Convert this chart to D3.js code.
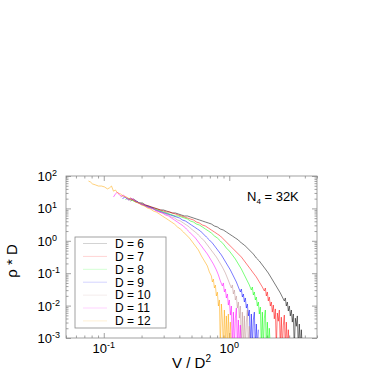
<!DOCTYPE html>
<html>
<head>
<meta charset="utf-8">
<script src="https://cdn.jsdelivr.net/npm/d3@7"></script>
<style>
  body { margin: 0; background: #fff; }
  svg { display: block; font-family: "Liberation Sans", Arial, sans-serif; }
</style>
</head>
<body>
<svg id="chart" width="382" height="382"></svg>
<script>
// values (V/D^2, rho*D); 0 = empty bin
const dValues = [6, 7, 8, 9, 10, 11, 12];
const lineColors = ['#000000', '#ff0000', '#00ff00', '#0000ff', '#bc8f8f', '#ff00ff', '#ffa500'];

const seriesD6 = [[0.163,16.9],[0.172,19.5],[0.182,16.9],[0.192,14.7],[0.203,14.7],[0.215,12.7],[0.227,11.9],[0.240,11.0],[0.253,10.3],[0.268,9.58],[0.283,8.92],[0.299,8.92],[0.316,8.31],[0.334,7.74],[0.352,7.21],[0.372,7.21],[0.393,6.72],[0.415,6.26],[0.439,5.83],[0.464,5.83],[0.490,5.43],[0.518,5.06],[0.547,4.71],[0.578,4.39],[0.611,4.08],[0.645,3.80],[0.682,3.54],[0.720,3.30],[0.761,2.86],[0.804,2.67],[0.849,2.31],[0.897,2.15],[0.948,1.87],[1.001,1.62],[1.058,1.41],[1.118,1.22],[1.181,1.06],[1.248,0.855],[1.319,0.742],[1.393,0.599],[1.472,0.484],[1.555,0.391],[1.643,0.294],[1.736,0.238],[1.834,0.179],[1.938,0.135],[2.047,0.101],[2.163,0.0711],[2.285,0.0499],[2.415,0.0349],[2.551,0.0245],[2.647,0.0184],[2.745,0.0139],[2.796,0.0172],[2.848,0.0097],[2.901,0.0129],[2.954,0.0068],[3.009,0.0097],[3.065,0.0048],[3.121,0.0073],[3.179,0.0031],[3.238,0.0055],[3.298,0],[3.359,0.0041],[3.421,0.0023],[3.485,0.0048],[3.549,0],[3.615,0.0027],[3.681,0],[3.750,0.0018],[3.819,0]];

const seriesD7 = [[0.157,18.2],[0.163,20.9],[0.172,18.2],[0.182,15.8],[0.192,14.7],[0.203,13.7],[0.215,12.7],[0.227,11.9],[0.240,11.0],[0.253,10.3],[0.268,9.58],[0.283,8.92],[0.299,8.31],[0.316,7.74],[0.334,7.74],[0.352,7.21],[0.372,6.72],[0.393,6.26],[0.415,5.83],[0.439,5.43],[0.464,5.06],[0.490,4.71],[0.518,4.39],[0.547,3.80],[0.578,3.54],[0.611,3.07],[0.645,2.86],[0.682,2.48],[0.720,2.15],[0.761,1.87],[0.804,1.62],[0.849,1.41],[0.897,1.14],[0.948,0.918],[1.001,0.742],[1.058,0.599],[1.118,0.484],[1.181,0.391],[1.248,0.316],[1.319,0.238],[1.393,0.179],[1.472,0.135],[1.555,0.101],[1.643,0.0764],[1.736,0.0535],[1.834,0.0375],[1.903,0.0282],[1.938,0.0349],[1.974,0.0198],[2.010,0.0263],[2.047,0.0139],[2.085,0.0184],[2.124,0.0097],[2.163,0.0129],[2.203,0.0063],[2.244,0.0104],[2.285,0.0039],[2.328,0.0079],[2.371,0],[2.415,0.0059],[2.459,0.0033],[2.505,0.0073],[2.551,0],[2.598,0.0044],[2.647,0],[2.696,0.0025],[2.745,0.0051],[2.796,0],[2.848,0.0031],[2.901,0],[2.954,0.0018],[3.009,0]];

const seriesD8 = [[0.149,18.2],[0.154,20.9],[0.163,19.5],[0.172,16.9],[0.182,15.8],[0.192,14.7],[0.203,13.7],[0.215,11.9],[0.227,11.0],[0.240,10.3],[0.253,9.58],[0.268,8.92],[0.283,8.31],[0.299,7.74],[0.316,7.21],[0.334,6.72],[0.352,6.26],[0.372,5.83],[0.393,5.83],[0.415,5.43],[0.439,5.06],[0.464,4.71],[0.490,4.08],[0.518,3.80],[0.547,3.30],[0.578,3.07],[0.611,2.67],[0.645,2.31],[0.682,2.01],[0.720,1.74],[0.761,1.41],[0.804,1.22],[0.849,0.99],[0.897,0.796],[0.948,0.599],[1.001,0.484],[1.058,0.365],[1.118,0.274],[1.181,0.192],[1.248,0.135],[1.319,0.088],[1.393,0.0575],[1.445,0.0433],[1.499,0.0303],[1.527,0.0375],[1.555,0.0212],[1.584,0.0263],[1.613,0.0149],[1.643,0.0184],[1.673,0.0097],[1.705,0.0129],[1.736,0.0055],[1.768,0.0090],[1.801,0],[1.834,0.0063],[1.868,0],[1.903,0.0041],[1.938,0.0073],[1.974,0],[2.010,0.0031],[2.047,0],[2.085,0.0020],[2.124,0]];

const seriesD9 = [[0.141,19.5],[0.146,22.5],[0.1516,20.9],[0.157,18.2],[0.166,19.5],[0.1755,16.9],[0.1855,15.8],[0.196,13.7],[0.207,12.7],[0.219,11.9],[0.231,11.0],[0.244,10.3],[0.258,8.92],[0.273,8.31],[0.288,7.74],[0.304,7.21],[0.322,6.72],[0.340,6.26],[0.359,5.83],[0.379,5.43],[0.401,5.06],[0.423,4.39],[0.447,4.08],[0.473,3.54],[0.499,3.07],[0.527,2.67],[0.557,2.31],[0.589,2.01],[0.622,1.62],[0.657,1.31],[0.694,1.06],[0.733,0.855],[0.775,0.644],[0.819,0.484],[0.865,0.365],[0.914,0.256],[0.966,0.179],[1.020,0.126],[1.078,0.082],[1.139,0.0535],[1.181,0.0375],[1.225,0.0263],[1.248,0.0325],[1.271,0.0184],[1.295,0.0228],[1.319,0.0129],[1.343,0.0172],[1.368,0.0084],[1.393,0.0112],[1.419,0.0048],[1.445,0.0073],[1.472,0],[1.499,0.0055],[1.527,0],[1.555,0.0036],[1.584,0.0063],[1.613,0],[1.643,0.0027],[1.673,0],[1.705,0.0018]];

const seriesD10 = [[0.1358,22.5],[0.1435,24.1],[0.1516,20.9],[0.1601,18.2],[0.1692,19.5],[0.1788,15.8],[0.1889,14.7],[0.1996,13.7],[0.2109,11.9],[0.2228,11.0],[0.2354,10.3],[0.2487,9.58],[0.2627,8.92],[0.2776,7.74],[0.2933,7.21],[0.3099,6.72],[0.3274,6.26],[0.3459,5.43],[0.3655,5.06],[0.3861,4.39],[0.4079,4.08],[0.4310,3.54],[0.4554,3.07],[0.4811,2.67],[0.5083,2.15],[0.5370,1.87],[0.5673,1.51],[0.600,1.22],[0.633,0.99],[0.669,0.742],[0.707,0.558],[0.747,0.420],[0.789,0.316],[0.834,0.222],[0.881,0.155],[0.931,0.101],[0.966,0.0711],[1.001,0.0499],[1.039,0.0349],[1.058,0.0433],[1.078,0.0228],[1.098,0.0303],[1.118,0.0149],[1.139,0.0198],[1.160,0.0084],[1.181,0.0129],[1.203,0.0041],[1.225,0.0097],[1.248,0],[1.271,0.0063],[1.295,0],[1.319,0.0048],[1.343,0],[1.368,0.0031],[1.393,0.0073],[1.419,0],[1.445,0.0023],[1.472,0]];

const seriesD11 = [[0.1195,22.5],[0.1239,27.8],[0.1285,32.1],[0.1333,25.9],[0.138,24.1],[0.1435,25.9],[0.1516,20.9],[0.1601,19.5],[0.1692,19.5],[0.1788,16.9],[0.1889,14.7],[0.1996,13.7],[0.2109,12.7],[0.2228,11.0],[0.2354,10.3],[0.2487,9.58],[0.2627,8.31],[0.2776,7.74],[0.2933,7.21],[0.3099,6.26],[0.3274,5.83],[0.3459,5.06],[0.3655,4.39],[0.3861,3.80],[0.4079,3.30],[0.4310,2.86],[0.4554,2.31],[0.4811,1.87],[0.5083,1.51],[0.5370,1.22],[0.5673,0.918],[0.600,0.691],[0.633,0.520],[0.669,0.391],[0.707,0.274],[0.747,0.192],[0.789,0.126],[0.819,0.088],[0.849,0.0575],[0.881,0.0403],[0.897,0.0499],[0.914,0.0263],[0.931,0.0325],[0.948,0.0172],[0.966,0.0228],[0.983,0.0104],[1.001,0.0149],[1.020,0.0051],[1.039,0.0097],[1.058,0],[1.078,0.0063],[1.098,0],[1.118,0.0041],[1.139,0.0084],[1.160,0],[1.181,0.0036],[1.203,0],[1.225,0.0025],[1.248,0]];

const seriesD12 = [[0.0755,70],[0.0784,65],[0.0813,57],[0.0859,53],[0.0907,49],[0.0959,49],[0.1013,46],[0.1070,40],[0.1110,43],[0.1152,49],[0.1195,34],[0.1239,37],[0.1285,30],[0.1358,28],[0.1435,24],[0.1516,22.5],[0.1601,19.5],[0.1692,18.2],[0.1788,15.8],[0.1889,14.7],[0.1996,12.7],[0.2109,11.9],[0.2228,10.3],[0.2354,9.6],[0.2487,8.3],[0.2627,7.7],[0.2776,6.7],[0.2933,5.8],[0.3099,5.06],[0.3274,4.39],[0.3459,3.8],[0.3655,3.3],[0.3861,2.67],[0.4079,2.31],[0.4310,1.87],[0.4554,1.51],[0.4811,1.22],[0.5083,0.92],[0.5370,0.69],[0.5673,0.52],[0.600,0.34],[0.633,0.24],[0.669,0.167],[0.694,0.109],[0.720,0.082],[0.733,0.0535],[0.747,0.066],[0.761,0.035],[0.775,0.043],[0.789,0.0198],[0.804,0.026],[0.819,0.0097],[0.834,0.0149],[0.849,0],[0.865,0.0112],[0.881,0.0036],[0.897,0],[0.914,0.0073],[0.931,0],[0.948,0.0048],[0.966,0],[0.983,0.0055],[1.001,0],[1.020,0.0031],[1.039,0]];

const allSeries = [seriesD6, seriesD7, seriesD8, seriesD9, seriesD10, seriesD11, seriesD12];

const xTicks = [0.1, 1];
const xTickExp = ['-1', '0'];
const yTicks = [1e-3, 1e-2, 1e-1, 1, 10, 100];
const yTickExp = ['-3', '-2', '-1', '0', '1', '2'];

const svg = d3.select('#chart');
const margin = { top: 176, right: 65, bottom: 44, left: 66 };
const width = 382, height = 382;

const x = d3.scaleLog()
  .domain([0.05, 5])
  .range([margin.left, width - margin.right]);

const y = d3.scaleLog()
  .domain([1e-3, 1e2])
  .range([height - margin.bottom, margin.top]);

const x0 = x.range()[0], x1 = x.range()[1];
const y0 = y.range()[0], y1 = y.range()[1];

// minor ticks at 2..9 of every decade
const minorX = [];
[0.01, 0.1, 1].forEach(dec => { for (let k = 2; k <= 9; k++) { const v = k * dec; if (v >= 0.05 && v <= 5) minorX.push(v); } });
const minorY = [];
[1e-3, 1e-2, 1e-1, 1, 10].forEach(dec => { for (let k = 2; k <= 9; k++) minorY.push(k * dec); });

const tickColor = '#8a8a8a';

function styleAxis(g) {
  g.select('.domain').remove();
  g.selectAll('line').attr('stroke', tickColor).attr('stroke-width', 0.8);
}

// major + minor ticks, inward, on all four sides
[[d3.axisBottom, y0, xTicks, 5], [d3.axisBottom, y0, minorX, 2.5],
 [d3.axisTop, y1, xTicks, 5], [d3.axisTop, y1, minorX, 2.5]].forEach(([ax, ty, vals, len]) => {
  svg.append('g')
    .attr('transform', `translate(0,${ty})`)
    .call(ax(x).tickValues(vals).tickSize(-len).tickFormat(''))
    .call(styleAxis);
});
[[d3.axisLeft, x0, yTicks, 5], [d3.axisLeft, x0, minorY, 2.5],
 [d3.axisRight, x1, yTicks, 5], [d3.axisRight, x1, minorY, 2.5]].forEach(([ax, tx, vals, len]) => {
  svg.append('g')
    .attr('transform', `translate(${tx},0)`)
    .call(ax(y).tickValues(vals).tickSize(-len).tickFormat(''))
    .call(styleAxis);
});

svg.append('rect')
  .attr('x', x0).attr('y', y1)
  .attr('width', x1 - x0).attr('height', y0 - y1)
  .attr('fill', 'none')
  .attr('stroke', tickColor)
  .attr('stroke-width', 0.8);

// tick labels: 10 with superscript exponent
xTicks.forEach((v, i) => {
  const t = svg.append('text')
    .attr('x', x(v))
    .attr('y', y0 + 15)
    .attr('text-anchor', 'middle')
    .attr('font-size', 13)
    .attr('fill', '#000');
  t.append('tspan').text('10');
  t.append('tspan').attr('dy', -5).attr('font-size', 9).text(xTickExp[i]);
});

yTicks.forEach((v, i) => {
  const t = svg.append('text')
    .attr('x', x0 - 14)
    .attr('y', y(v) + 5)
    .attr('text-anchor', 'end')
    .attr('font-size', 13)
    .attr('fill', '#000');
  t.append('tspan').text('10');
  t.append('tspan').attr('x', x0 - 14).attr('dy', -5).attr('font-size', 9).attr('text-anchor', 'start').text(yTickExp[i]);
});

// axis titles
const xt = svg.append('text')
  .attr('x', (x0 + x1) / 2)
  .attr('y', 368)
  .attr('text-anchor', 'middle')
  .attr('font-size', 15);
xt.append('tspan').text('V / D');
xt.append('tspan').attr('dy', -6).attr('font-size', 10).text('2');

svg.append('text')
  .attr('transform', `translate(17,${(y0 + y1) / 2 + 4}) rotate(-90)`)
  .attr('text-anchor', 'middle')
  .attr('font-size', 15)
  .text('\u03c1 * D');

// curves
svg.append('clipPath').attr('id', 'plot-clip')
  .append('rect')
  .attr('x', x0).attr('y', y1)
  .attr('width', x1 - x0).attr('height', y0 - y1);

const line = d3.line()
  .x(d => x(d[0]))
  .y(d => d[1] > 0 ? y(d[1]) : y0 + 10);

svg.append('g')
  .attr('clip-path', 'url(#plot-clip)')
  .selectAll('path')
  .data(allSeries)
  .join('path')
  .attr('fill', 'none')
  .attr('stroke', (d, i) => lineColors[i])
  .attr('stroke-width', 0.7)
  .attr('stroke-opacity', 0.75)
  .attr('d', line);

// legend
const legend = svg.append('g');
legend.append('rect')
  .attr('x', 75).attr('y', 237)
  .attr('width', 91).attr('height', 91)
  .attr('fill', '#fff')
  .attr('stroke', tickColor)
  .attr('stroke-width', 0.8);

dValues.forEach((dv, i) => {
  const ly = 243.5 + i * 12.9;
  legend.append('line')
    .attr('x1', 83).attr('x2', 107)
    .attr('y1', ly).attr('y2', ly)
    .attr('stroke', lineColors[i])
    .attr('stroke-opacity', 0.22)
    .attr('stroke-width', 0.8);
  legend.append('text')
    .attr('x', 115).attr('y', ly + 4.3)
    .attr('font-size', 12)
    .text(`D = ${dv}`);
});

// annotation
const ann = svg.append('text')
  .attr('x', 247).attr('y', 201)
  .attr('font-size', 13);
ann.append('tspan').text('N');
ann.append('tspan').attr('dy', 3).attr('font-size', 8).text('4');
ann.append('tspan').attr('dy', -3).text(' = 32K');
</script>
</body>
</html>
